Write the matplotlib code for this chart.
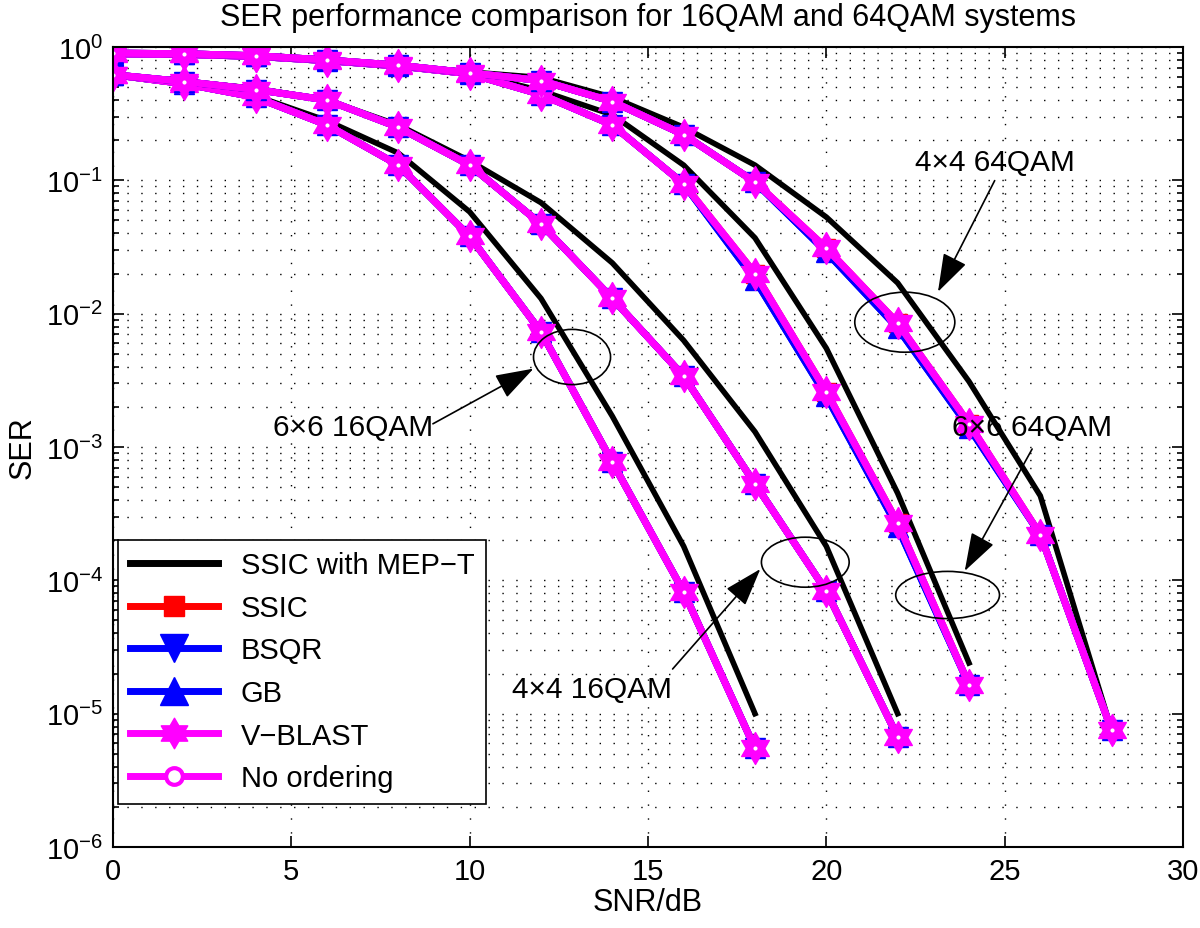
import numpy as np
import matplotlib.pyplot as plt
from matplotlib.patches import Ellipse
from matplotlib.lines import Line2D
from matplotlib.path import Path

plt.rcParams['font.family'] = ['Liberation Sans', 'DejaVu Sans']
plt.rcParams['mathtext.fontset'] = 'custom'
plt.rcParams['mathtext.rm'] = 'Liberation Sans'

# SNR axes (dB)
snr_6x6_16 = [0, 2, 4, 6, 8, 10, 12, 14, 16, 18]
snr_4x4_16 = [0, 2, 4, 6, 8, 10, 12, 14, 16, 18, 20, 22]
snr_6x6_64 = [0, 2, 4, 6, 8, 10, 12, 14, 16, 18, 20, 22, 24]
snr_4x4_64 = [0, 2, 4, 6, 8, 10, 12, 14, 16, 18, 20, 22, 24, 26, 28]

# SSIC with MEP-T
mept_6x6_16 = [0.62, 0.54, 0.43, 0.28, 0.16, 0.058, 0.013, 1.7e-3, 1.8e-4, 1.0e-5]
mept_4x4_16 = [0.62, 0.55, 0.49, 0.40, 0.26, 0.14, 0.068, 0.024, 6.3e-3, 1.3e-3, 1.8e-4, 1.0e-5]
mept_6x6_64 = [0.89, 0.88, 0.85, 0.79, 0.72, 0.64, 0.47, 0.31, 0.13, 0.037, 5.5e-3, 4.5e-4, 2.4e-5]
mept_4x4_64 = [0.90, 0.89, 0.86, 0.80, 0.73, 0.65, 0.59, 0.42, 0.25, 0.13, 0.053, 0.017, 3.1e-3, 4.3e-4, 7.5e-6]

# V-BLAST (SSIC and No ordering coincide with it in the figure)
vblast_6x6_16 = [0.62, 0.53, 0.42, 0.26, 0.13, 0.038, 7.3e-3, 7.7e-4, 8.2e-5, 5.5e-6]
vblast_4x4_16 = [0.62, 0.55, 0.48, 0.40, 0.25, 0.13, 0.047, 0.013, 3.4e-3, 5.3e-4, 8.3e-5, 6.7e-6]
vblast_6x6_64 = [0.89, 0.88, 0.85, 0.79, 0.72, 0.63, 0.44, 0.26, 0.094, 0.020, 2.6e-3, 2.7e-4, 1.65e-5]
vblast_4x4_64 = [0.90, 0.89, 0.86, 0.80, 0.73, 0.64, 0.56, 0.39, 0.22, 0.097, 0.031, 8.5e-3, 1.5e-3, 2.2e-4, 7.5e-6]

# BSQR / GB (slightly below V-BLAST at a few 64QAM points)
bsqr_6x6_16 = [0.62, 0.53, 0.42, 0.26, 0.13, 0.038, 7.3e-3, 7.7e-4, 8.2e-5, 5.5e-6]
bsqr_4x4_16 = [0.62, 0.55, 0.48, 0.40, 0.25, 0.13, 0.047, 0.013, 3.4e-3, 5.3e-4, 8.3e-5, 6.7e-6]
bsqr_6x6_64 = [0.89, 0.88, 0.85, 0.79, 0.72, 0.63, 0.44, 0.26, 0.094, 0.018, 2.4e-3, 2.5e-4, 1.65e-5]
bsqr_4x4_64 = [0.90, 0.89, 0.86, 0.80, 0.73, 0.64, 0.56, 0.39, 0.22, 0.097, 0.029, 7.8e-3, 1.4e-3, 2.2e-4, 7.5e-6]

groups = [
    (snr_6x6_16, mept_6x6_16, vblast_6x6_16, bsqr_6x6_16),
    (snr_4x4_16, mept_4x4_16, vblast_4x4_16, bsqr_4x4_16),
    (snr_6x6_64, mept_6x6_64, vblast_6x6_64, bsqr_6x6_64),
    (snr_4x4_64, mept_4x4_64, vblast_4x4_64, bsqr_4x4_64),
]

hexagram = Path.unit_regular_star(6, innerCircle=0.577)
red = '#ff0000'
blue = '#0000ff'
magenta = '#ff00ff'

fig = plt.figure(figsize=(12, 9.29), dpi=100)
ax = fig.add_axes([113 / 1200, 81 / 929, 1070 / 1200, 800 / 929])

for snr, mept, vblast, bsqr in groups:
    ax.plot(snr, mept, color='k', lw=4, solid_joinstyle='miter')
    ax.plot(snr, vblast, color=red, lw=5, marker='s', ms=13, mfc=red, mec=red)
    ax.plot(snr, bsqr, color=blue, lw=5, marker='v', ms=15, mfc=blue, mec=blue)
    ax.plot(snr, bsqr, color=blue, lw=5, marker='^', ms=15, mfc=blue, mec=blue)
    ax.plot(snr, vblast, color=magenta, lw=5, marker=hexagram, ms=23,
            mfc=magenta, mec=magenta, mew=1)
    ax.plot(snr, vblast, color=magenta, lw=5, marker='o', ms=5,
            mfc='white', mec=magenta, mew=2)

ax.set_yscale('log')
ax.set_xlim(0, 30)
ax.set_ylim(1e-6, 1)
ax.set_xticks([0, 5, 10, 15, 20, 25, 30])
ax.tick_params(which='both', direction='in', top=True, right=True, labelsize=21,
               width=1.2, pad=7)
ax.tick_params(which='major', length=8)
ax.tick_params(which='minor', length=4)
for sp in ax.spines.values():
    sp.set_linewidth(1.5)

ax.grid(True, which='major', axis='x', color='k', ls=(0, (1, 9)), lw=1.0)
ax.grid(True, which='both', axis='y', color='k', ls=(0, (1, 9)), lw=1.0)
ax.set_axisbelow(True)

ax.set_xlabel('SNR/dB', fontsize=22, labelpad=2)
ax.set_ylabel('SER', fontsize=22, labelpad=6)
ax.set_title('SER performance comparison for 16QAM and 64QAM systems', fontsize=22, pad=16)

# ellipses and arrows (axes fraction)
ellipses = [((0.740, 0.656), 0.0935, 0.075),
            ((0.429, 0.6125), 0.072, 0.069),
            ((0.647, 0.356), 0.082, 0.0625),
            ((0.780, 0.315), 0.097, 0.059)]
for c, w, h in ellipses:
    ax.add_patch(Ellipse(c, w, h, transform=ax.transAxes, fill=False,
                         ec='k', lw=1.2, zorder=5))

notes = [('4×4 64QAM', (0.824, 0.856), (0.824, 0.833), (0.771, 0.694)),
         ('6×6 16QAM', (0.224, 0.525), (0.299, 0.529), (0.393, 0.598)),
         ('4×4 16QAM', (0.448, 0.1975), (0.523, 0.2225), (0.605, 0.3475)),
         ('6×6 64QAM', (0.859, 0.525), (0.859, 0.4975), (0.796, 0.345))]
for txt, tpos, tail, head in notes:
    ax.text(tpos[0], tpos[1], txt, transform=ax.transAxes, fontsize=21.5,
            ha='center', va='center', zorder=6)
    ax.annotate('', xy=head, xytext=tail, xycoords='axes fraction',
                textcoords='axes fraction', zorder=6,
                arrowprops=dict(arrowstyle='-|>,head_length=1.2,head_width=0.4',
                                color='k', lw=1.2, mutation_scale=20,
                                shrinkA=0, shrinkB=0))

handles = [
    Line2D([], [], color='k', lw=5),
    Line2D([], [], color=red, lw=5, marker='s', ms=14, mfc=red, mec=red),
    Line2D([], [], color=blue, lw=5, marker='v', ms=20, mfc=blue, mec=blue),
    Line2D([], [], color=blue, lw=5, marker='^', ms=20, mfc=blue, mec=blue),
    Line2D([], [], color=magenta, lw=5, marker=hexagram, ms=22, mfc=magenta, mec=magenta),
    Line2D([], [], color=magenta, lw=5, marker='o', ms=12, mfc='white', mec=magenta, mew=3),
]
labels = ['SSIC with MEP\u2212T', 'SSIC', 'BSQR', 'GB', 'V\u2212BLAST', 'No ordering']
leg = ax.legend(handles, labels, loc='lower left', bbox_to_anchor=(0.005, 0.054),
                fontsize=21, frameon=True, fancybox=False, framealpha=1,
                edgecolor='k', handlelength=3.0, handletextpad=0.8,
                labelspacing=0.5, borderpad=0.4, borderaxespad=0)
leg.get_frame().set_linewidth(1.2)
leg.set_zorder(10)

fig.savefig('out.png', dpi=100)
